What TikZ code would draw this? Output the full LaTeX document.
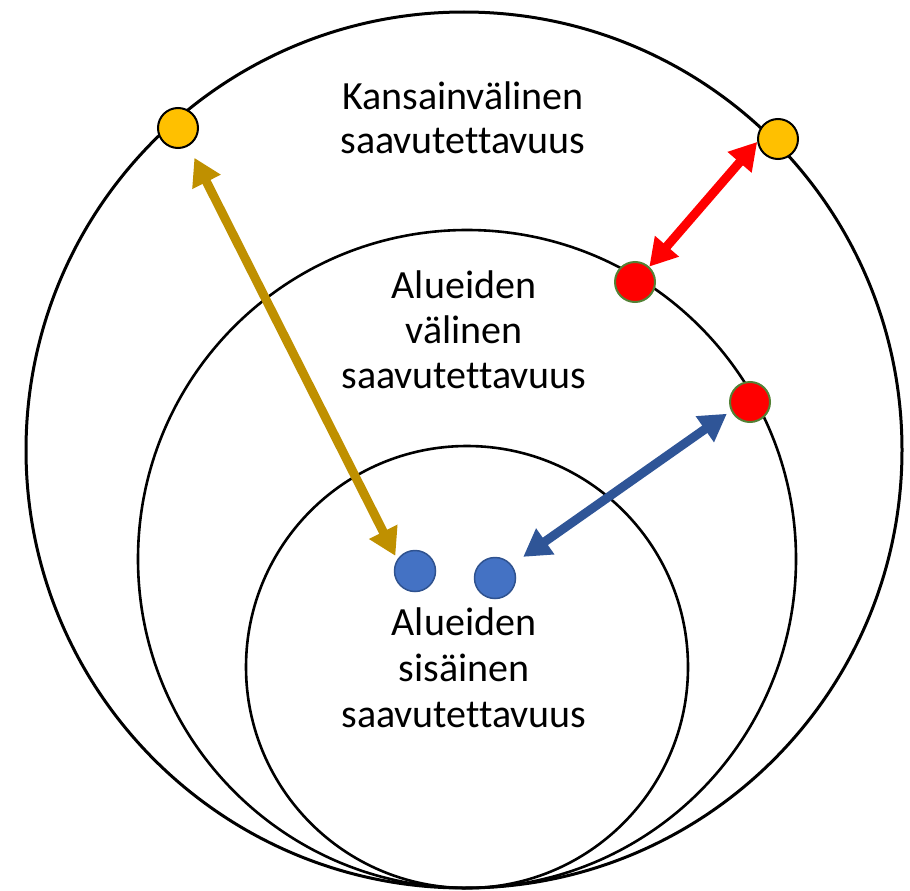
\documentclass[tikz,border=0pt]{standalone}
\usepackage{fontspec}
\setmainfont[Ligatures={NoCommon,NoContextual},Contextuals=NoAlternate]{Carlito}
\usetikzlibrary{arrows.meta}
\definecolor{dotyellow}{HTML}{FFC000}
\definecolor{dotred}{HTML}{FF0000}
\definecolor{redrim}{HTML}{538135}
\definecolor{dotblue}{HTML}{4472C4}
\definecolor{bluerim}{HTML}{2F528F}
\definecolor{goldarrow}{HTML}{BF9000}
\definecolor{bluearrow}{HTML}{2F5597}
\tikzset{
  ring/.style={draw=black, line width=2.6pt},
  dotbase/.style={circle, minimum size=40pt, inner sep=0pt, line width=2pt},
  ydot/.style={dotbase, fill=dotyellow, draw=black},
  rdot/.style={dotbase, fill=dotred, draw=redrim},
  bdot/.style={dotbase, minimum size=41pt, fill=dotblue, draw=bluerim, line width=1.5pt},
  dblarrow/.style={line width=9pt, {Triangle[length=27pt,width=30pt]}-{Triangle[length=27pt,width=30pt]}},
  lbl/.style={font=\fontsize{40}{44}\selectfont, inner sep=0pt, anchor=base}
}
\begin{document}
\begin{tikzpicture}[x=1pt, y=-1pt]
\useasboundingbox (0,0) rectangle (910,891);
% rings
\draw[ring, line width=3pt] (464,450) circle[radius=438];
\draw[ring] (467,559) circle[radius=329];
\draw[ring] (467,667) circle[radius=221];
% dots
\node[ydot] (Y1) at (178,128) {};
\node[ydot] (Y2) at (778,139) {};
\node[rdot] (R1) at (635,282) {};
\node[rdot] (R2) at (750,402) {};
\node[bdot] (B1) at (415,571) {};
\node[bdot] (B2) at (495,578) {};
% arrows
\draw[dblarrow, goldarrow, shorten <=13pt, shorten >=4pt] (Y1.300) -- (B1.147);
\draw[dblarrow, dotred] (Y2.188) -- (R1.47);
\draw[dblarrow, bluearrow, shorten <=5pt, shorten >=14pt] (R2.205) -- (B2.38);
% labels
\node[lbl] (t1a) at (463,109) {Kansainvälinen};
\node[lbl] (t1b) at (463,153) {saavutettavuus};
\node[lbl] (t2a) at (464,298) {Alueiden};
\node[lbl] (t2b) at (464,343) {välinen};
\node[lbl] (t2c) at (464,388) {saavutettavuus};
\node[lbl] (t3a) at (464,635) {Alueiden};
\node[lbl] (t3b) at (464,681) {sisäinen};
\node[lbl] (t3c) at (464,727) {saavutettavuus};
\end{tikzpicture}
\end{document}
